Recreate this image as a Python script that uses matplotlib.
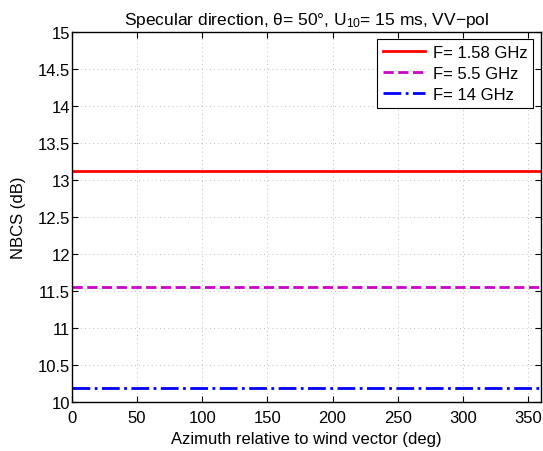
import matplotlib
matplotlib.use("Agg")
import matplotlib.pyplot as plt
import numpy as np

plt.rcParams['font.family'] = ['Liberation Sans', 'DejaVu Sans']
plt.rcParams['mathtext.fontset'] = 'custom'
plt.rcParams['mathtext.rm'] = 'Liberation Sans'
plt.rcParams['mathtext.it'] = 'Liberation Sans:italic'

azimuth = [0, 360]
labels = ['F= 1.58 GHz', 'F= 5.5 GHz', 'F= 14 GHz']
nbcs_158 = [13.12, 13.12]
nbcs_55 = [11.56, 11.56]
nbcs_14 = [10.19, 10.19]
colors = ['#ff0000', '#cc00cc', '#0000ff']
styles = ['-', '--', '-.']

fig = plt.figure(figsize=(5.43, 4.52), dpi=100)
ax = fig.add_axes([0.1326, 0.1084, 0.8637, 0.8186])
for y, lab, c, ls in zip([nbcs_158, nbcs_55, nbcs_14], labels, colors, styles):
    ax.plot(azimuth, y, color=c, linestyle=ls, linewidth=2, label=lab)

ax.set_xlim(0, 360)
ax.set_ylim(10, 15)
ax.set_xticks(np.arange(0, 351, 50))
ax.set_yticks(np.arange(10, 15.01, 0.5))
ax.set_yticklabels(['10', '10.5', '11', '11.5', '12', '12.5', '13', '13.5', '14', '14.5', '15'])
ax.grid(True, color='#aaaaaa', linestyle=(0, (1, 4)), linewidth=0.6)
ax.tick_params(direction='in', top=True, right=True, labelsize=12, length=4)
ax.tick_params(axis='x', pad=6)
ax.tick_params(axis='y', pad=1.5)
for s in ax.spines.values():
    s.set_linewidth(1.0)
ax.set_xlabel('Azimuth relative to wind vector (deg)', fontsize=12, labelpad=4)
ax.set_ylabel('NBCS (dB)', fontsize=12, labelpad=8)
ax.set_title('Specular direction, θ= 50°, U$_{\\mathrm{10}}$= 15 ms, VV−pol', fontsize=12.5, pad=6)
leg = ax.legend(loc='upper right', fontsize=12, fancybox=False, edgecolor='black',
                framealpha=1, handlelength=2.5, borderaxespad=0.45, labelspacing=0.35,
                borderpad=0.35, handletextpad=0.5)
leg.get_frame().set_linewidth(0.8)
fig.savefig('out.png', dpi=100)
